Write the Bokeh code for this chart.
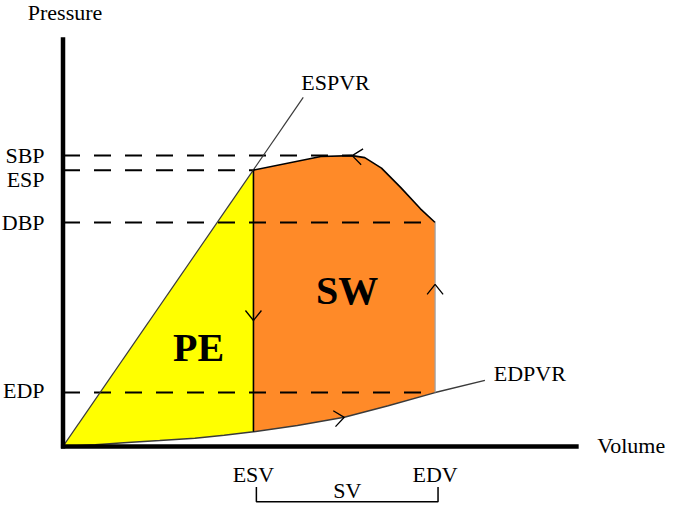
import math
from bokeh.plotting import figure
from bokeh.models import Range1d, ColumnDataSource
from bokeh.core.properties import value
from bokeh.embed import file_html
from bokeh.resources import INLINE

# ---------------- data (volume in mL, pressure in mmHg) ----------------
ESV = 65
EDV = 127
SBP = 100
ESP = 95
DBP = 77
EDP = 18.5

# end-systolic pressure-volume relation (straight line)
espvr_v = [0, 82]
espvr_p = [0, 120]

# end-diastolic pressure-volume relation (curve)
edpvr_v = [0, 11, 22, 33, 45, 55, 65, 80, 96, 111, 127, 144]
edpvr_p = [0, 0.6, 1.3, 2.0, 2.8, 3.8, 5, 7.2, 10, 14, 18.5, 22.7]

# ejection limb of the loop, from (EDV, DBP) to (ESV, ESP)
eject_v = [127, 122, 115.3, 108.7, 103, 98.7, 88, 65]
eject_p = [77, 81.7, 89, 95.7, 99.3, 100, 99.7, 95]

pressure_labels = ["SBP", "ESP", "DBP", "EDP"]
pressure_values = [SBP, ESP, DBP, EDP]
pressure_line_end = [98.7, ESV, EDV, EDV]

volume_labels = ["ESV", "EDV"]
volume_values = [ESV, EDV]

# direction-of-travel chevrons on the loop
arrow_v = [ESV, EDV, 98.7, 96]
arrow_p = [43.3, 55.7, SBP, 10]
arrow_angle = [-90, 90, 173, 8]

axis_top = 140.7
axis_right = 176

# ---------------- layout ----------------
W, H = 669, 506
x0, x1 = -64 / 3, (685 - 64) / 3
y1 = 460 / 3
y0 = (460 - 522) / 3
sx = W / (x1 - x0)
sy = H / (y1 - y0)

p = figure(width=W, height=H, output_backend="svg", toolbar_location=None,
           x_range=Range1d(x0, x1), y_range=Range1d(y0, y1),
           x_axis_type=None, y_axis_type=None,
           min_border=0, min_border_left=0, min_border_right=0,
           min_border_top=0, min_border_bottom=0)
p.grid.visible = False
p.outline_line_color = None
p.background_fill_color = "white"
p.border_fill_color = "white"

FONT = value("Liberation Serif")
FS = "22px"

# ---------------- filled areas ----------------
yel_v = [0, ESV] + [v for v in reversed(edpvr_v) if v <= ESV]
yel_p = [0, ESP] + [pp for v, pp in zip(reversed(edpvr_v), reversed(edpvr_p)) if v <= ESV]
p.patch(yel_v, yel_p, fill_color="#FFFF00", line_color=None)

org_v = eject_v + [v for v in edpvr_v if ESV <= v <= EDV]
org_p = eject_p + [pp for v, pp in zip(edpvr_v, edpvr_p) if ESV <= v <= EDV]
p.patch(org_v, org_p, fill_color="#FF8A28", line_color=None)

# ---------------- dashed reference lines ----------------
p.multi_line(xs=[[0, e] for e in pressure_line_end],
             ys=[[pv, pv] for pv in pressure_values],
             line_color="black", line_width=2, line_dash="17 14")

# ---------------- relations and loop outline ----------------
p.line(espvr_v, espvr_p, line_color="#3a3a3a", line_width=1.2)
p.line(edpvr_v, edpvr_p, line_color="#3a3a3a", line_width=1.5)
p.line(eject_v, eject_p, line_color="black", line_width=1.6)
p.line([ESV, ESV], [ESP, edpvr_p[edpvr_v.index(ESV)]], line_color="black", line_width=1.6)
p.line([EDV, EDV], [DBP, EDP], line_color="#9aa0a8", line_width=1.2)

# ---------------- chevrons ----------------
L, Wd = 10, 8
cx, cy = [], []
for v, pr, a in zip(arrow_v, arrow_p, arrow_angle):
    t = math.radians(a)
    dx, dy = math.cos(t), math.sin(t)
    nx, ny = -dy, dx
    b1 = (v + (-L * dx + Wd * nx) / sx, pr + (-L * dy + Wd * ny) / sy)
    b2 = (v + (-L * dx - Wd * nx) / sx, pr + (-L * dy - Wd * ny) / sy)
    cx.append([b1[0], v, b2[0]])
    cy.append([b1[1], pr, b2[1]])
p.multi_line(xs=cx, ys=cy, line_color="black", line_width=1.3)

# ---------------- axes ----------------
p.line([0, 0], [-0.7, axis_top], line_color="black", line_width=4.5)
p.line([-0.7, axis_right], [0, 0], line_color="black", line_width=4.5)

# SV bracket
p.line([ESV + 1, ESV + 1, EDV + 1, EDV + 1], [-14, -19, -19, -14],
       line_color="black", line_width=1.5)

# ---------------- texts ----------------
src = ColumnDataSource(dict(x=[-6.3] * 4, y=pressure_values, t=pressure_labels,
                            dy=[0, 9, 0, -2]))
p.text(x="x", y="y", text="t", y_offset="dy", source=src, text_font=FONT,
       text_font_size=FS, text_align="right", text_baseline="middle",
       text_color="black")

p.text(x=volume_values, y=[-9.7, -9.7], text=volume_labels, text_font=FONT,
       text_font_size=FS, text_align="center", text_baseline="middle",
       text_color="black")
p.text(x=[(ESV + EDV) / 2 + 1], y=[-15.3], text=["SV"], text_font=FONT,
       text_font_size=FS, text_align="center", text_baseline="middle")

p.text(x=[0.7], y=[149.3], text=["Pressure"], text_font=FONT,
       text_font_size=FS, text_align="center", text_baseline="middle")
p.text(x=[182.3], y=[0.3], text=["Volume"], text_font=FONT,
       text_font_size=FS, text_align="left", text_baseline="middle")
p.text(x=[93], y=[125.3], text=["ESPVR"], text_font=FONT,
       text_font_size=FS, text_align="center", text_baseline="middle")
p.text(x=[147], y=[25], text=["EDPVR"], text_font=FONT,
       text_font_size=FS, text_align="left", text_baseline="middle")

p.text(x=[46.3], y=[34], text=["PE"], text_font=FONT, text_font_style="bold",
       text_font_size="40px", text_align="center", text_baseline="middle")
p.text(x=[97], y=[53.7], text=["SW"], text_font=FONT, text_font_style="bold",
       text_font_size="40px", text_align="center", text_baseline="middle")

open("out.html", "w").write(file_html(p, INLINE))
